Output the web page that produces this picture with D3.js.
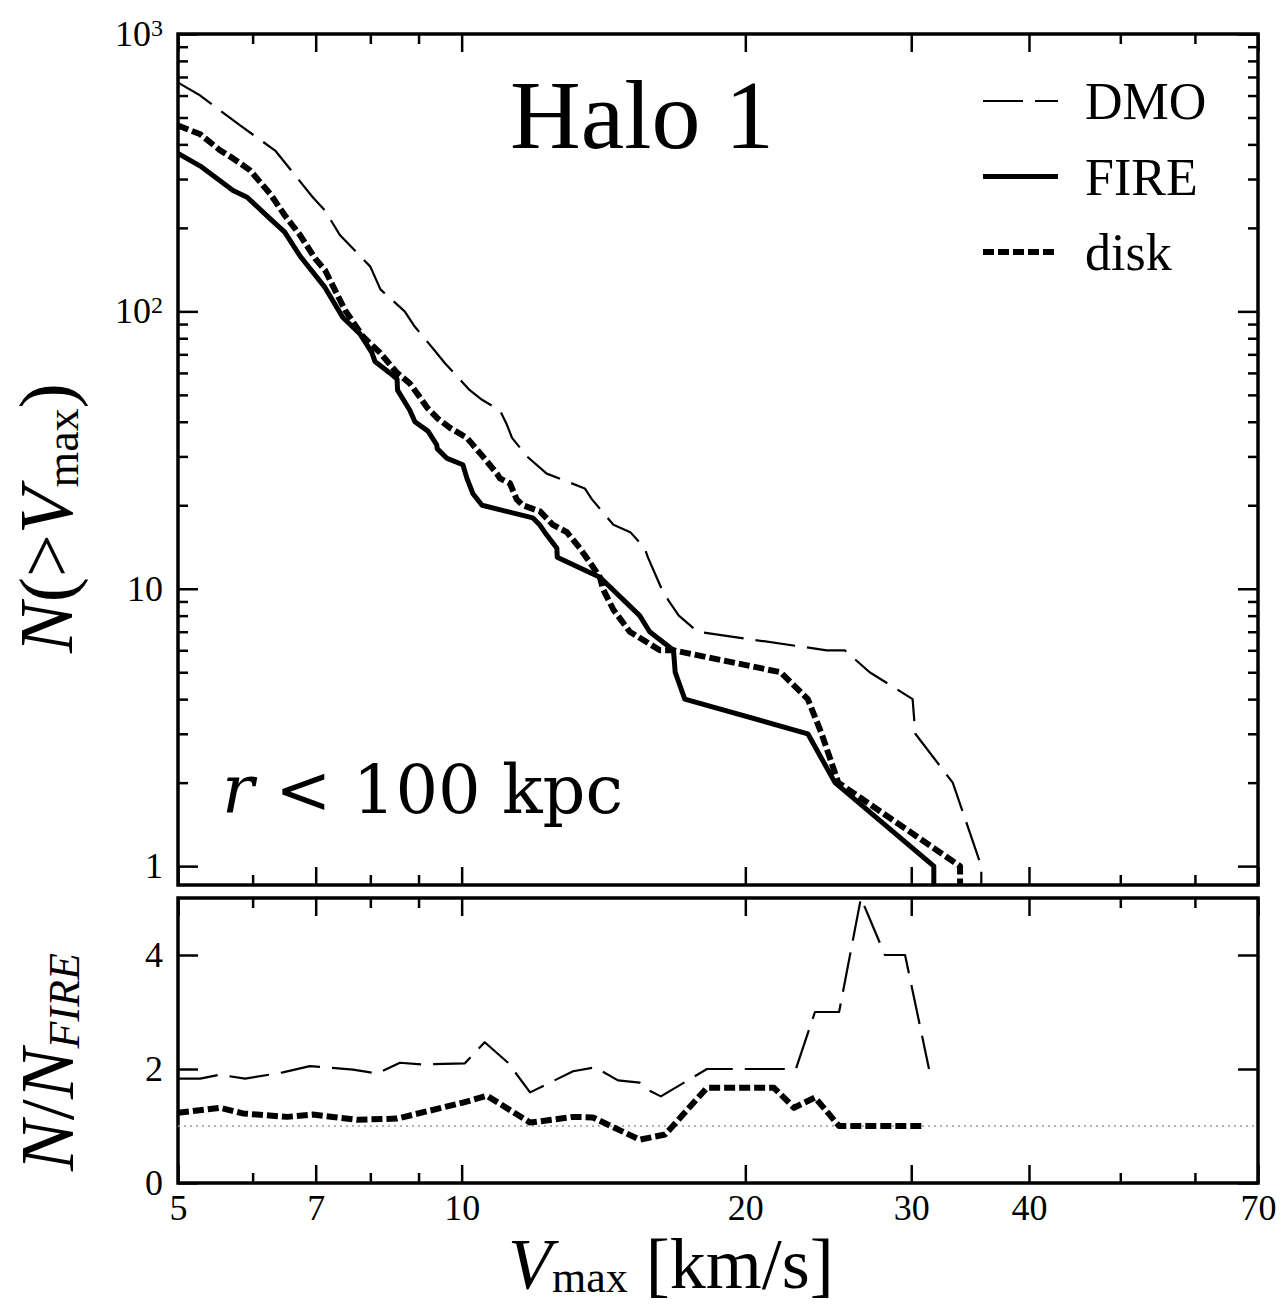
<!DOCTYPE html>
<html>
<head>
<meta charset="utf-8">
<script src="https://cdnjs.cloudflare.com/ajax/libs/d3/7.8.5/d3.min.js"></script>
<style>
    body { margin: 0; background: #fff; }
    svg text { font-family: 'Liberation Serif', 'Times New Roman', serif; fill: #000; }
</style>
</head>
<body>
<svg id="chart" width="1281" height="1304"></svg>
<script>
// cumulative counts N(>Vmax)
var dmoV = [5.0, 5.28, 5.82, 6.34, 6.95, 7.16, 7.43, 8.0, 8.2, 8.7, 8.92, 9.37, 9.6, 10.2, 10.51,
    10.98, 11.17, 11.31, 11.73, 12.31, 13.51, 13.75, 14.49, 15.1, 15.64, 15.76, 16.1, 16.3, 16.6,
    17.0, 17.8, 24.4, 25.5, 27.1, 30.1, 30.3, 33.2, 35.6, 35.6];
var dmoN = [668, 600, 468, 380, 258, 231, 188, 145, 120, 100, 88, 72, 65, 52, 48,
    44, 39, 35, 30, 26, 23, 21, 17, 16, 14, 13, 11, 10, 9,
    8, 7, 6, 6, 5, 4, 3, 2, 1, 0];

var fireV = [5.0, 5.28, 5.72, 5.92, 6.26, 6.49, 6.74, 7.16, 7.48, 7.8, 8.03, 8.09, 8.39, 8.54,
    8.55, 8.81, 8.92, 9.21, 9.41, 9.42, 9.65, 10.03, 10.13, 10.28, 10.51, 11.9, 12.1, 12.25,
    12.62, 12.63, 13.27, 14.02, 15.45, 15.83, 16.78, 16.85, 17.25, 23.3, 24.9, 31.7, 31.7];
var fireN = [371, 334, 273, 258, 216, 193, 158, 122, 95, 83, 71, 66, 60, 57,
    52, 44, 40, 37, 33, 32, 29.5, 28, 25, 22, 20, 18, 17, 16,
    14, 13, 12, 11, 8, 7, 6, 5, 4, 3, 2, 1, 0];

var diskV = [5.0, 5.28, 5.54, 5.72, 5.96, 6.26, 6.49, 6.74, 6.99, 7.16, 7.52, 7.86, 8.19, 8.54,
    8.81, 9.03, 9.19, 9.44, 9.72, 10.13, 10.28, 10.53, 10.9, 10.98, 11.25, 11.44, 11.61, 12.11,
    12.5, 12.93, 13.35, 13.78, 14.02, 14.12, 14.49, 15.08, 16.23, 16.78, 21.8, 23.3, 24.1, 25.1,
    33.8, 33.8];
var diskN = [468, 435, 381, 356, 323, 266, 222, 188, 155, 141, 101, 81, 71, 60,
    55, 49, 45, 41, 38, 35, 33, 30, 26, 25, 24, 21, 20, 19,
    17, 16, 14, 12, 11, 10, 8.4, 7, 6, 6, 5, 4, 3, 2,
    1, 0];

// ratios N / N_FIRE
var ratioDmoV = [5.0, 5.28, 5.54, 5.89, 6.46, 6.9, 7.67, 8.13, 8.6, 9.1, 10.08, 10.58, 11.2,
    11.82, 13.13, 13.85, 14.65, 15.45, 15.83, 16.27, 18.21, 22.63, 23.71, 25.15, 26.53, 28.13,
    29.55, 31.33];
var ratioDmo = [1.83, 1.83, 1.9, 1.83, 1.94, 2.05, 1.99, 1.92, 2.11, 2.08, 2.1, 2.47, 2.11,
    1.59, 1.96, 2.03, 1.8, 1.76, 1.62, 1.52, 2.0, 2.0, 3.0, 3.0, 5.0, 4.0,
    4.0, 2.0];

var ratioDiskV = [5.0, 5.54, 5.86, 6.53, 6.95, 7.74, 8.54, 10.03, 10.64, 11.82, 13.13, 13.78,
    15.45, 16.44, 18.21, 21.45, 22.53, 23.71, 25.15, 30.95];
var ratioDisk = [1.23, 1.32, 1.22, 1.16, 1.2, 1.11, 1.13, 1.41, 1.53, 1.06, 1.16, 1.15,
    0.76, 0.85, 1.67, 1.67, 1.32, 1.5, 1.0, 1.0];

// ticks
var xTickMajor = [5, 7, 10, 20, 30, 40, 70];
var xTickMinor = [6, 8, 9, 50, 60];
var nTickMajor = [1, 10, 100, 1000];
var ratioTicks = [0, 2, 4];

var legendNames = ['DMO', 'FIRE', 'disk'];

(function () {
    'use strict';

    // layout
    var left = 178, right = 1258,
        top1 = 34, bot1 = 885,
        top2 = 898, bot2 = 1183;

    // line styles
    var styles = {
        DMO: { width: 2.2, dash: '40,12' },
        FIRE: { width: 5, dash: null },
        disk: { width: 6, dash: '11,4' },
    };

    var svg = d3.select('#chart');

    var x = d3.scaleLog().domain([5, 70]).range([left, right]);
    var yTop = d3.scaleLog().domain([0.855, 1000]).range([bot1, top1]).clamp(true);
    var yBot = d3.scaleLinear().domain([0, 5]).range([bot2, top2]);

    var nMinor = [];
    [1, 10, 100].forEach(function (dec) {
        d3.range(2, 10).forEach(function (k) { nMinor.push(k * dec); });
    });

    var defs = svg.append('defs');
    defs.append('clipPath').attr('id', 'clipTop')
        .append('rect').attr('x', left).attr('y', top1)
        .attr('width', right - left).attr('height', bot1 - top1);
    defs.append('clipPath').attr('id', 'clipBot')
        .append('rect').attr('x', left).attr('y', top2)
        .attr('width', right - left).attr('height', bot2 - top2);

    function zip(vs, ns) {
        return vs.map(function (v, i) { return [v, ns[i]]; });
    }

    function addLine(g, pts, y, name) {
        var st = styles[name];
        var line = d3.line()
            .x(function (d) { return x(d[0]); })
            .y(function (d) { return y(d[1]); });
        g.append('path')
            .datum(pts)
            .attr('d', line)
            .attr('fill', 'none')
            .attr('stroke', '#000')
            .attr('stroke-width', st.width)
            .attr('stroke-linejoin', 'round')
            .attr('stroke-dasharray', st.dash);
    }

    function clean(g) {
        g.select('.domain').remove();
        g.selectAll('line').attr('stroke', '#000').attr('stroke-width', 2.5);
        g.attr('font-family', null).attr('font-size', null);
    }

    // ticks on all four sides, pointing inwards
    function frameTicks(yScale, yMajor, yMinor, y0, y1) {
        var g = svg.append('g');

        g.append('g').attr('transform', 'translate(0,' + y1 + ')')
            .call(d3.axisBottom(x).tickValues(xTickMajor).tickSize(-18).tickFormat(''))
            .call(clean);
        g.append('g').attr('transform', 'translate(0,' + y1 + ')')
            .call(d3.axisBottom(x).tickValues(xTickMinor).tickSize(-10).tickFormat(''))
            .call(clean);
        g.append('g').attr('transform', 'translate(0,' + y0 + ')')
            .call(d3.axisTop(x).tickValues(xTickMajor).tickSize(-18).tickFormat(''))
            .call(clean);
        g.append('g').attr('transform', 'translate(0,' + y0 + ')')
            .call(d3.axisTop(x).tickValues(xTickMinor).tickSize(-10).tickFormat(''))
            .call(clean);
        g.append('g').attr('transform', 'translate(' + right + ',0)')
            .call(d3.axisRight(yScale).tickValues(yMajor).tickSize(-20).tickFormat(''))
            .call(clean);
        if (yMinor.length) {
            g.append('g').attr('transform', 'translate(' + left + ',0)')
                .call(d3.axisLeft(yScale).tickValues(yMinor).tickSize(-10).tickFormat(''))
                .call(clean);
            g.append('g').attr('transform', 'translate(' + right + ',0)')
                .call(d3.axisRight(yScale).tickValues(yMinor).tickSize(-10).tickFormat(''))
                .call(clean);
        }

        var yl = g.append('g').attr('transform', 'translate(' + left + ',0)')
            .call(d3.axisLeft(yScale).tickValues(yMajor).tickSize(-20).tickPadding(15)
                .tickFormat(function (d) { return d >= 100 ? '10' : String(d); }))
            .call(clean);
        yl.selectAll('text').attr('font-size', '36px');

        g.append('rect')
            .attr('x', left).attr('y', y0)
            .attr('width', right - left).attr('height', y1 - y0)
            .attr('fill', 'none').attr('stroke', '#000').attr('stroke-width', 3.5);
        return yl;
    }

    // top panel
    var yl = frameTicks(yTop, nTickMajor, nMinor, top1, bot1);
    yl.selectAll('text').each(function (d) {
        if (d >= 100) {
            d3.select(this).append('tspan')
                .attr('dy', '-0.42em')
                .attr('font-size', '24px')
                .text(String(Math.round(Math.log10(d))));
        }
    });

    var gTop = svg.append('g').attr('clip-path', 'url(#clipTop)');
    addLine(gTop, zip(dmoV, dmoN), yTop, 'DMO');
    addLine(gTop, zip(fireV, fireN), yTop, 'FIRE');
    addLine(gTop, zip(diskV, diskN), yTop, 'disk');

    // bottom panel
    frameTicks(yBot, ratioTicks, [], top2, bot2);

    var xl = svg.append('g').attr('transform', 'translate(0,' + bot2 + ')')
        .call(d3.axisBottom(x).tickValues(xTickMajor).tickSize(0).tickPadding(11)
            .tickFormat(d3.format('d')))
        .call(clean);
    xl.selectAll('text').attr('font-size', '36px');

    var gBot = svg.append('g').attr('clip-path', 'url(#clipBot)');
    gBot.append('line')
        .attr('x1', left).attr('x2', right)
        .attr('y1', yBot(1)).attr('y2', yBot(1))
        .attr('stroke', '#999').attr('stroke-width', 1.5)
        .attr('stroke-dasharray', '2,4');
    addLine(gBot, zip(ratioDmoV, ratioDmo), yBot, 'DMO');
    addLine(gBot, zip(ratioDiskV, ratioDisk), yBot, 'disk');

    // legend
    var lg = svg.append('g').attr('transform', 'translate(983,101)');
    legendNames.forEach(function (name, i) {
        var st = styles[name];
        var row = lg.append('g').attr('transform', 'translate(0,' + (i * 75.5) + ')');
        row.append('line')
            .attr('x1', 0).attr('x2', 75).attr('y1', 0).attr('y2', 0)
            .attr('stroke', '#000')
            .attr('stroke-width', st.width)
            .attr('stroke-dasharray', st.dash);
        row.append('text')
            .attr('x', 102).attr('y', 18)
            .attr('font-size', '52px')
            .text(name);
    });

    // annotations
    svg.append('text')
        .attr('x', 510).attr('y', 148)
        .attr('font-size', '98px')
        .text('Halo 1');

    var rt = svg.append('text')
        .attr('x', 222).attr('y', 813)
        .style('font-family', "'DejaVu Serif', serif")
        .attr('font-size', '67px');
    rt.append('tspan').attr('font-style', 'italic').text('r');
    rt.append('tspan').text(' < 100 kpc');

    // axis labels
    var yt = svg.append('text')
        .attr('transform', 'translate(72,518) rotate(-90)')
        .attr('text-anchor', 'middle')
        .attr('font-size', '76px');
    yt.append('tspan').attr('font-style', 'italic').text('N');
    yt.append('tspan').text('(>');
    yt.append('tspan').attr('font-style', 'italic').text('V');
    yt.append('tspan').attr('font-size', '46px').attr('dy', 6).text('max');
    yt.append('tspan').attr('dy', -6).text(')');

    var yb = svg.append('text')
        .attr('transform', 'translate(73,1062) rotate(-90)')
        .attr('text-anchor', 'middle')
        .attr('font-size', '76px');
    yb.append('tspan').attr('font-style', 'italic').text('N');
    yb.append('tspan').text('/');
    yb.append('tspan').attr('font-style', 'italic').text('N');
    yb.append('tspan').attr('font-style', 'italic').attr('font-size', '44px')
        .attr('dy', 6).text('FIRE');

    var xt = svg.append('text')
        .attr('x', 508).attr('y', 1288)
        .attr('font-size', '72px');
    xt.append('tspan').attr('font-style', 'italic').text('V');
    xt.append('tspan').attr('font-size', '44px').attr('dy', 4).text('max');
    xt.append('tspan').attr('dy', -4).text(' [km/s]');
}());
</script>
</body>
</html>
